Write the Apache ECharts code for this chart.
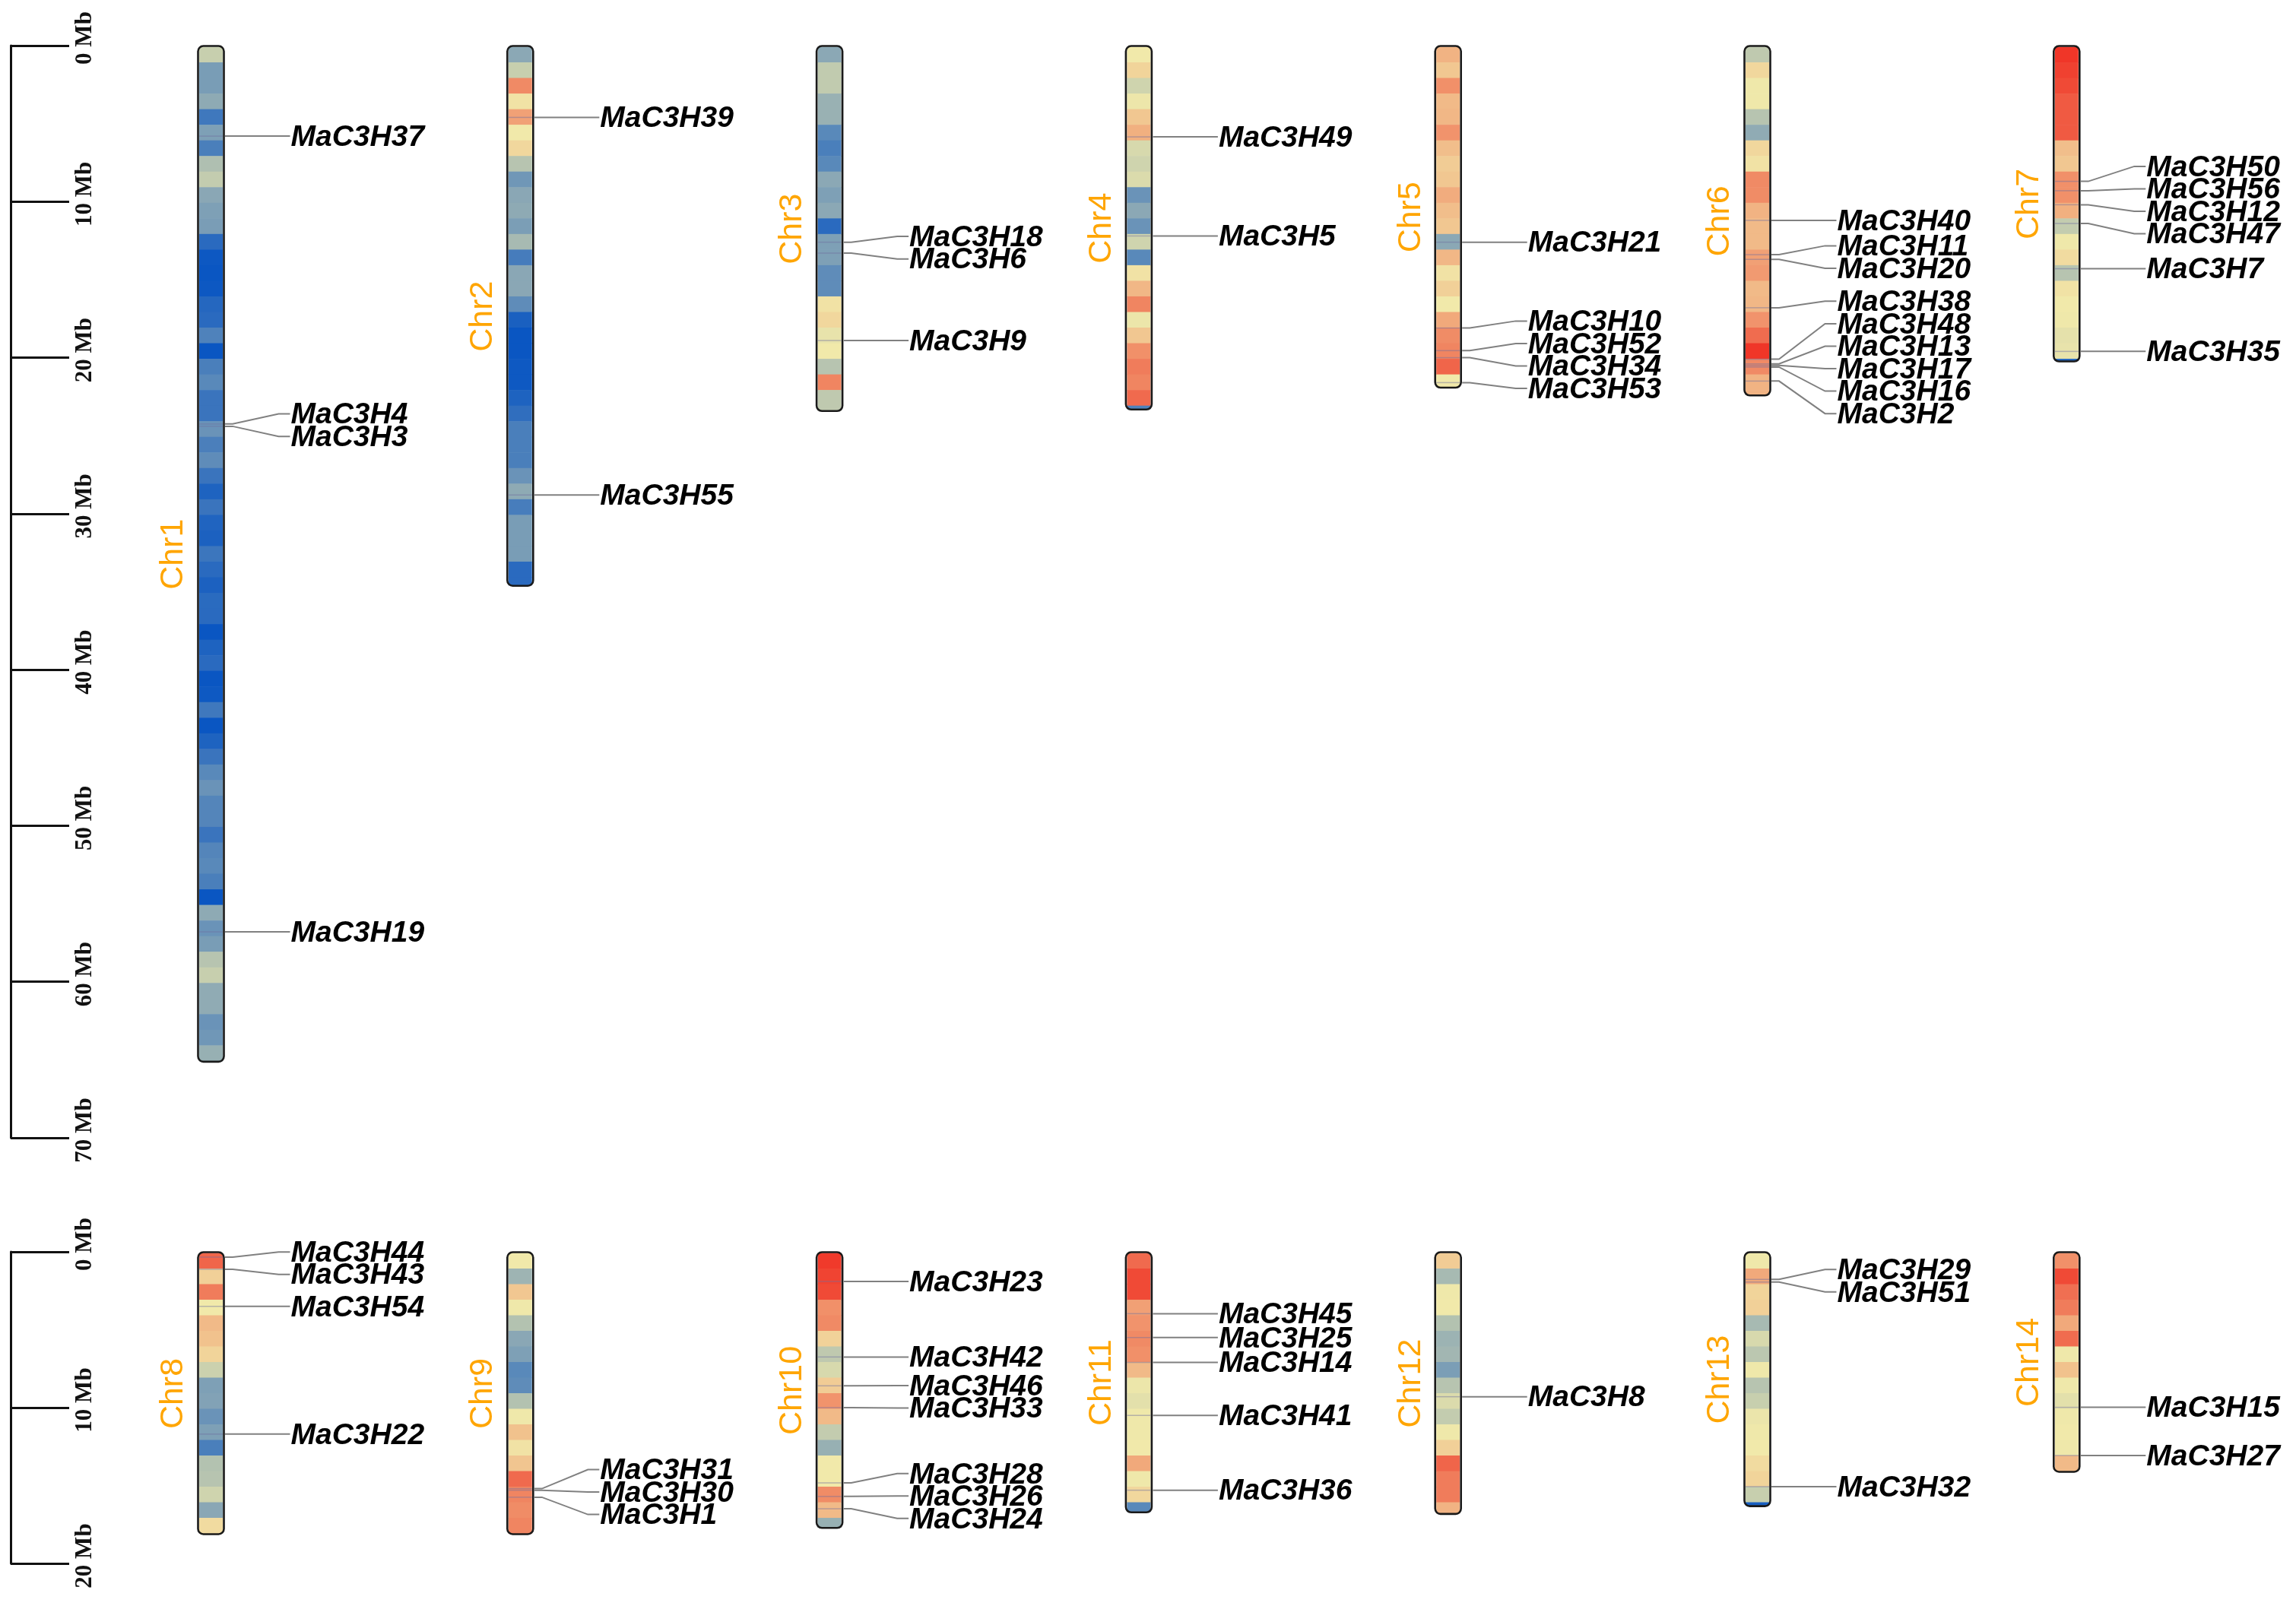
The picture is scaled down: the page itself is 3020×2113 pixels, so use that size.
<!DOCTYPE html>
<html>
<head>
<meta charset="utf-8">
<script src="https://cdn.jsdelivr.net/npm/echarts@6/dist/echarts.min.js"></script>
<style>
html,body{margin:0;padding:0;background:#ffffff;}
#chart{width:3020px;height:2113px;}
</style>
</head>
<body>
<div id="chart"></div>
<script>
// ---------------- DATA ----------------
const chrNames = ['Chr1','Chr2','Chr3','Chr4','Chr5','Chr6','Chr7',
                  'Chr8','Chr9','Chr10','Chr11','Chr12','Chr13','Chr14'];
// chromosome lengths in Mb
const chrLengths = [65.0, 34.5, 23.3, 23.2, 21.8, 22.3, 20.0,
                    18.0, 18.0, 17.6, 16.6, 16.7, 16.2, 14.0];
// gene density per 1 Mb window (0 = lowest / blue, 5 = middle / yellow, 10 = highest / red)
const chr1Bins = [4.1,2.4,2.4,2.85,1.14,2.5,1.38,3.58,4.0,2.76,2.5,2.43,0.69,0.06,0.0,0.06,0.58,0.69,1.5,0.0,
                  1.38,1.72,1.03,1.03,2.07,1.4,1.85,1.03,0.43,1.03,0.47,0.39,1.08,0.69,0.39,0.7,0.69,0.0,0.43,0.69,
                  0.0,0.09,1.14,0.0,0.43,1.03,1.72,2.07,1.6,1.6,1.03,1.6,1.72,1.38,0.0,2.85,2.07,2.41,3.75,4.1,
                  2.9,2.9,2.07,2.2,3.06];
const chr2Bins = [2.8,4.1,7.65,5.2,7.0,5.0,5.5,3.75,2.2,2.76,2.85,2.45,3.4,1.29,2.76,2.76,1.83,0.34,0.0,0.0,
                  0.09,0.09,0.43,0.82,1.38,1.38,1.38,2.07,2.85,1.33,2.41,2.41,2.41,0.69,0.69];
const chr3Bins = [2.8,3.97,3.97,3.1,3.1,1.72,1.38,1.72,2.8,2.5,2.8,0.69,2.5,2.5,1.83,1.83,5.2,5.5,4.8,5.0,
                  3.75,7.8,3.92,3.92];
const chr4Bins = [5.0,5.6,4.27,4.91,5.95,6.6,4.44,4.27,4.53,2.07,2.8,2.07,4.27,1.72,5.2,6.4,7.8,4.9,5.95,7.5,
                  8.05,7.8,8.55,1.5];
const chr5Bins = [6.5,5.95,7.5,6.3,6.4,7.4,6.2,5.8,5.95,6.7,6.2,5.95,2.8,6.4,5.2,5.7,5.0,6.8,7.6,7.8,
                  8.7,5.0];
const chr6Bins = [3.92,5.5,4.95,4.95,3.75,2.9,5.5,5.2,7.65,7.6,6.5,6.3,6.3,7.05,7.2,6.3,6.4,7.4,8.5,10.0,
                  7.65,6.5,6.5];
const chr7Bins = [10.0,9.7,9.45,9.0,9.0,9.0,6.2,5.95,7.5,7.5,6.6,4.0,4.95,5.4,3.75,5.2,5.0,4.95,4.74,4.8,0.5];
const chr8Bins = [8.7,5.7,8.05,5.0,6.3,6.1,5.6,4.18,2.5,2.6,2.07,2.5,1.38,3.66,3.75,4.27,2.76,5.4];
const chr9Bins = [5.0,3.2,5.95,4.95,3.66,2.76,2.5,1.72,1.85,3.66,4.95,6.1,5.2,6.0,8.55,7.8,7.6,7.8];
const chr10Bins = [9.9,9.6,9.45,7.5,7.65,5.65,3.92,4.44,5.8,7.4,6.3,4.0,3.06,5.0,5.0,7.6,6.3,3.06];
const chr11Bins = [8.55,9.45,9.45,7.05,7.4,7.65,7.5,6.3,4.9,4.7,4.95,4.95,5.0,6.8,4.95,5.5,1.72];
const chr12Bins = [5.8,3.4,4.95,5.0,3.66,3.15,3.28,2.45,3.75,4.53,4.0,4.95,5.7,8.7,8.05,8.05,6.5];
const chr13Bins = [4.95,6.8,5.6,5.7,3.4,4.44,3.84,4.95,3.75,4.1,4.87,4.95,5.0,5.4,5.6,4.1,0.3];
const chr14Bins = [7.5,9.45,8.4,8.05,6.8,8.5,4.95,6.1,4.95,4.7,4.95,5.0,4.95,6.3];

// genes: name, chromosome (1-14), position (Mb)
const geneNames = ['MaC3H37','MaC3H4','MaC3H3','MaC3H19',
  'MaC3H39','MaC3H55',
  'MaC3H18','MaC3H6','MaC3H9',
  'MaC3H49','MaC3H5',
  'MaC3H21','MaC3H10','MaC3H52','MaC3H34','MaC3H53',
  'MaC3H40','MaC3H11','MaC3H20','MaC3H38','MaC3H48','MaC3H13','MaC3H17','MaC3H16','MaC3H2',
  'MaC3H50','MaC3H56','MaC3H12','MaC3H47','MaC3H7','MaC3H35',
  'MaC3H44','MaC3H43','MaC3H54','MaC3H22',
  'MaC3H31','MaC3H30','MaC3H1',
  'MaC3H23','MaC3H42','MaC3H46','MaC3H33','MaC3H28','MaC3H26','MaC3H24',
  'MaC3H45','MaC3H25','MaC3H14','MaC3H41','MaC3H36',
  'MaC3H8',
  'MaC3H29','MaC3H51','MaC3H32',
  'MaC3H15','MaC3H27'];
const geneChr = [1,1,1,1, 2,2, 3,3,3, 4,4, 5,5,5,5,5, 6,6,6,6,6,6,6,6,6, 7,7,7,7,7,7,
  8,8,8,8, 9,9,9, 10,10,10,10,10,10,10, 11,11,11,11,11, 12, 13,13,13, 14,14];
const genePosMb = [5.8,24.25,24.4,56.8,
  4.6,28.8,
  12.6,13.3,18.9,
  5.85,12.2,
  12.6,18.1,19.55,20.0,21.6,
  11.2,13.4,13.7,16.8,20.1,20.4,20.5,20.6,21.5,
  8.7,9.3,10.2,11.4,14.3,19.6,
  0.34,1.12,3.5,11.7,
  15.2,15.3,15.75,
  1.9,6.75,8.6,10.0,14.83,15.7,16.49,
  3.97,5.5,7.1,10.5,15.3,
  9.3,
  1.77,1.94,15.07,
  9.98,13.07];

// scale bars
const scaleMaxTop = 70, scaleMaxBottom = 20, scaleStep = 10;

// ---------------- LAYOUT / STYLE ----------------
const binsByChr = [chr1Bins,chr2Bins,chr3Bins,chr4Bins,chr5Bins,chr6Bins,chr7Bins,
                   chr8Bins,chr9Bins,chr10Bins,chr11Bins,chr12Bins,chr13Bins,chr14Bins];
const PER_ROW = 7;
const BAND_W = 31, OUT_W = 34, LABEL_GAP_MB = 1.44;
const GENE_FONT = '"Liberation Sans", Arial, sans-serif';
const colOf = i => i % PER_ROW;
const rowOf = i => Math.floor(i / PER_ROW);

// x axis: chromosome columns at 0..6
const COL0_PX = 277.5, COL_STEP_PX = 406.8, GRID_LEFT = 14, W = 3020;
const XMIN = (GRID_LEFT - COL0_PX) / COL_STEP_PX;
const XMAX = (W - COL0_PX) / COL_STEP_PX;

// label spreading: keep labels at least LABEL_GAP_MB apart, as close to genes as possible
function spreadLabels(pos, gap) {
  const order = pos.map((p, i) => i).sort((a, b) => pos[a] - pos[b]);
  const blocks = [];
  order.forEach(i => {
    blocks.push({ sum: pos[i], members: [i] });
    while (blocks.length > 1) {
      const b = blocks[blocks.length - 1], a = blocks[blocks.length - 2];
      const na = a.members.length, nb = b.members.length;
      const aEnd = a.sum / na + (na - 1) * gap / 2;
      const bStart = b.sum / nb - (nb - 1) * gap / 2;
      if (bStart - aEnd < gap - 1e-9) {
        a.sum += b.sum; a.members = a.members.concat(b.members); blocks.pop();
      } else break;
    }
  });
  const out = [];
  blocks.forEach(b => {
    const n = b.members.length, c = b.sum / n;
    b.members.forEach((m, k) => { out[m] = c + (k - (n - 1) / 2) * gap; });
  });
  return out;
}

const bandData = [[], []], chrData = [[], []], geneData = [[], []];
chrNames.forEach((name, i) => {
  const r = rowOf(i), c = colOf(i), len = chrLengths[i];
  const bins = binsByChr[i];
  bins.forEach((v, k) => {
    // the last window is the (short) remainder of the chromosome
    const s = k, e = (k === bins.length - 1) ? Math.max(len, k + 0.12) : k + 1;
    bandData[r].push([c, s, e, v]);
  });
  chrData[r].push([c, Math.max(len, bins.length - 1 + 0.12), name]);
  const idx = [];
  geneChr.forEach((gc, g) => { if (gc === i + 1) idx.push(g); });
  const lab = spreadLabels(idx.map(g => genePosMb[g]), LABEL_GAP_MB);
  idx.forEach((g, k) => geneData[r].push([c, genePosMb[g], lab[k], geneNames[g]]));
});

function renderBand(params, api) {
  const c = api.value(0);
  const p0 = api.coord([c, api.value(1)]);
  const p1 = api.coord([c, api.value(2)]);
  return {
    type: 'rect',
    shape: { x: p0[0] - BAND_W / 2, y: p0[1] + 1.5, width: BAND_W, height: p1[1] - p0[1] + 0.6 },
    style: { fill: api.visual('color') }
  };
}

function renderChr(params, api) {
  const c = api.value(0);
  const p0 = api.coord([c, 0]);
  const p1 = api.coord([c, api.value(1)]);
  return {
    type: 'group',
    children: [
      { type: 'rect',
        shape: { x: p0[0] - OUT_W / 2, y: p0[1] + 0.5, width: OUT_W, height: p1[1] - p0[1] + 2, r: 7 },
        style: { fill: null, stroke: '#1a1a1a', lineWidth: 2.6 } },
      { type: 'text', x: p0[0] - 49, y: (p0[1] + p1[1]) / 2 + 2, rotation: Math.PI / 2,
        style: { text: api.value(2), x: 0, y: 0, align: 'center', verticalAlign: 'middle',
                 fill: '#FFA500', fontSize: 43, fontFamily: GENE_FONT } }
    ]
  };
}

function renderGene(params, api) {
  const c = api.value(0);
  const pg = api.coord([c, api.value(1)]);
  const pl = api.coord([c, api.value(2)]);
  const right = pg[0] + OUT_W / 2 + 1.5;
  const textX = pg[0] + 105;
  return {
    type: 'group',
    children: [
      { type: 'line', shape: { x1: pg[0] - BAND_W / 2, y1: pg[1], x2: pg[0] + BAND_W / 2, y2: pg[1] },
        style: { stroke: 'rgba(110,110,160,0.45)', lineWidth: 1.5 } },
      { type: 'polyline',
        shape: { points: [[right, pg[1]], [right + 10, pg[1]], [textX - 16, pl[1]], [textX - 1, pl[1]]] },
        style: { stroke: '#808080', lineWidth: 2, fill: null } },
      { type: 'text', x: textX, y: pl[1] + 2,
        style: { text: api.value(3), x: 0, y: 0, align: 'left', verticalAlign: 'middle',
                 fill: '#000', fontSize: 39, fontWeight: 'bold', fontStyle: 'italic',
                 fontFamily: GENE_FONT } }
    ]
  };
}

function yAxisFor(r, max) {
  return {
    gridIndex: r, type: 'value', inverse: true, min: 0, max: max, interval: scaleStep,
    position: 'left',
    axisLine: { show: true, onZero: false, lineStyle: { color: '#111', width: 3 } },
    axisTick: { show: true, inside: true, length: 77, lineStyle: { color: '#111', width: 3 } },
    axisLabel: { show: true, inside: true, margin: 82, rotate: 90,
                 padding: [0, 0, 0, 20],
                 formatter: v => v + ' Mb',
                 fontFamily: '"Liberation Serif", "Times New Roman", serif',
                 fontWeight: 'bold', fontSize: 31, color: '#111' },
    splitLine: { show: false }
  };
}

const series = [];
[0, 1].forEach(r => {
  series.push({ type: 'custom', name: 'density' + r, xAxisIndex: r, yAxisIndex: r,
    renderItem: renderBand, data: bandData[r], encode: { x: 0, y: [1, 2] }, z: 1, silent: true,
    clip: false });
  series.push({ type: 'custom', name: 'chromosome' + r, xAxisIndex: r, yAxisIndex: r,
    renderItem: renderChr, data: chrData[r], encode: { x: 0, y: 1 }, z: 3, silent: true,
    clip: false });
  series.push({ type: 'custom', name: 'genes' + r, xAxisIndex: r, yAxisIndex: r,
    renderItem: renderGene, data: geneData[r], encode: { x: 0, y: [1, 2] }, z: 4, silent: true,
    clip: false });
});

const chart = echarts.init(document.getElementById('chart'), null, { renderer: 'canvas' });
chart.setOption({
  backgroundColor: '#ffffff',
  animation: false,
  grid: [
    { left: GRID_LEFT, right: 0, top: 60, height: 1437 },
    { left: GRID_LEFT, right: 0, top: 1647, height: 410 }
  ],
  xAxis: [
    { gridIndex: 0, type: 'value', min: XMIN, max: XMAX, show: false },
    { gridIndex: 1, type: 'value', min: XMIN, max: XMAX, show: false }
  ],
  yAxis: [ yAxisFor(0, scaleMaxTop), yAxisFor(1, scaleMaxBottom) ],
  visualMap: {
    type: 'continuous', show: false, min: 0, max: 10, dimension: 3,
    seriesIndex: [0, 3],
    inRange: { color: ['#0A56C2', '#F1E9AA', '#F03628'] }
  },
  series: series
});
</script>
</body>
</html>
